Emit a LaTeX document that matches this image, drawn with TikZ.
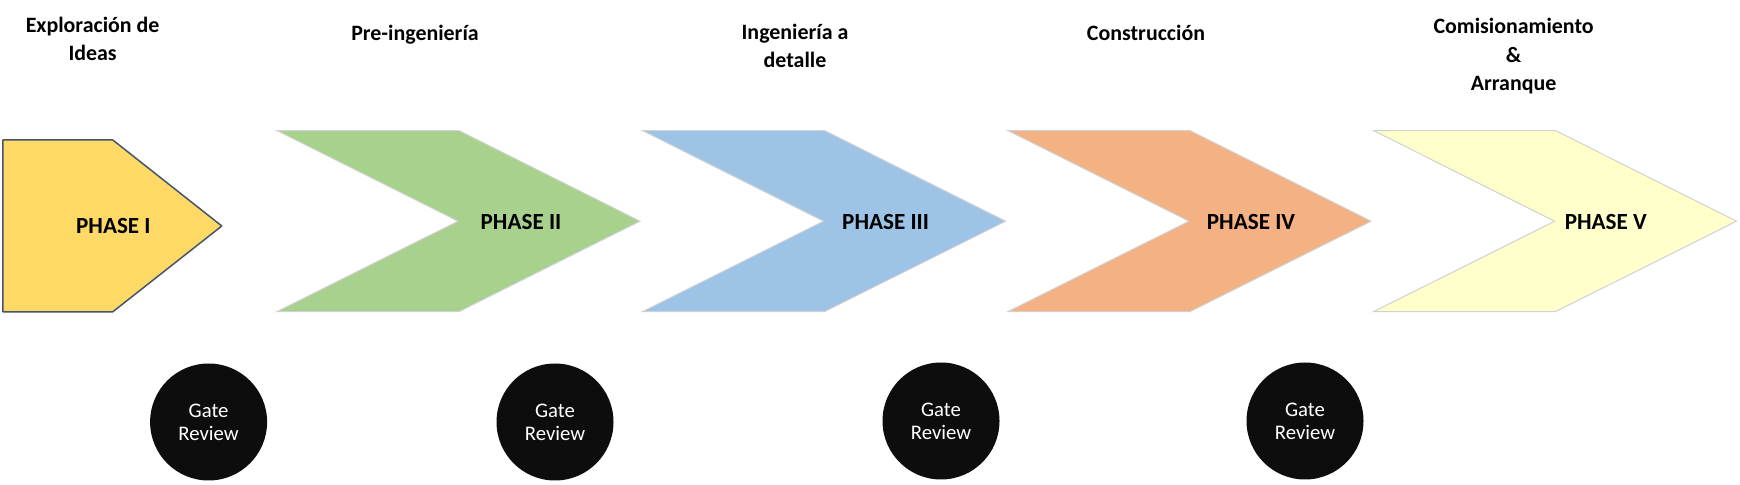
\documentclass[tikz,border=0pt]{standalone}
\usepackage{fontspec}
\setmainfont{Carlito}
\definecolor{phgold}{HTML}{FFD966}
\definecolor{phgreen}{HTML}{A9D18E}
\definecolor{phblue}{HTML}{9DC3E6}
\definecolor{phorange}{HTML}{F4B183}
\definecolor{phlemon}{HTML}{FFFFCC}
\definecolor{phedge}{HTML}{44546A}
\tikzset{
  chevron/.style={draw=black!18,line width=0.5bp,line join=miter},
  phasetxt/.style={font=\fontsize{11.6}{14}\selectfont\bfseries,inner sep=0pt},
  stagetxt/.style={font=\fontsize{11}{14.3}\selectfont\bfseries,align=center,anchor=base,inner sep=0pt},
  gate/.style={circle,fill=black!95,draw=none,minimum size=58.5bp,inner sep=0pt,
    text=white,align=center,font=\fontsize{10.4}{11.4}\selectfont},
}
\begin{document}
\begin{tikzpicture}[line join=bevel,]
\useasboundingbox (0bp,0bp) rectangle (870bp,242.5bp);
%%
\filldraw [fill=phgold,draw=phedge,line width=0.75bp] (1.4bp,172.5bp) -- (56.4bp,172.5bp) -- (110.9bp,129.5bp) -- (56.4bp,86.6bp) -- (1.4bp,86.6bp) -- cycle;
  \filldraw [chevron,fill=phgreen] (138.5bp,177.2bp) -- (229.5bp,177.2bp) -- (320bp,131.9bp) -- (229.5bp,86.7bp) -- (138.5bp,86.7bp) -- (229bp,131.9bp) -- cycle;
  \filldraw [chevron,fill=phblue] (321.3bp,177.2bp) -- (412.3bp,177.2bp) -- (502.8bp,131.9bp) -- (412.3bp,86.7bp) -- (321.3bp,86.7bp) -- (411.8bp,131.9bp) -- cycle;
  \filldraw [chevron,fill=phorange] (504bp,177.2bp) -- (595bp,177.2bp) -- (685.5bp,131.9bp) -- (595bp,86.7bp) -- (504bp,86.7bp) -- (594.5bp,131.9bp) -- cycle;
  \filldraw [chevron,fill=phlemon] (686.8bp,177.2bp) -- (777.8bp,177.2bp) -- (868.3bp,131.9bp) -- (777.8bp,86.7bp) -- (686.8bp,86.7bp) -- (777.3bp,131.9bp) -- cycle;
%
  \node (phase_1) at (56.7bp,129.3bp) [phasetxt] {PHASE I};
  \node (phase_2) at (260.5bp,131.5bp) [phasetxt] {PHASE II};
  \node (phase_3) at (442.8bp,131.5bp) [phasetxt] {PHASE III};
  \node (phase_4) at (625.5bp,131.5bp) [phasetxt] {PHASE IV};
  \node (phase_5) at (802.9bp,131.7bp) [phasetxt] {PHASE V};
%
  \node (stage_1) at (46.3bp,212bp) [stagetxt] {Exploración de\\Ideas};
  \node (stage_2) at (207.5bp,222.2bp) [stagetxt] {Pre-ingeniería};
  \node (stage_3) at (397.5bp,208.7bp) [stagetxt] {Ingeniería a\\detalle};
  \node (stage_4) at (573bp,222.2bp) [stagetxt] {Construcción};
  \node (stage_5) at (756.8bp,197.2bp) [stagetxt] {Comisionamiento\\\&\\Arranque};
%
  \node (gate_1) at (104.3bp,31.5bp) [gate] {Gate\\Review};
  \node (gate_2) at (277.5bp,31.5bp) [gate] {Gate\\Review};
  \node (gate_3) at (470.5bp,32bp) [gate] {Gate\\Review};
  \node (gate_4) at (652.5bp,32bp) [gate] {Gate\\Review};
%
\end{tikzpicture}
\end{document}
